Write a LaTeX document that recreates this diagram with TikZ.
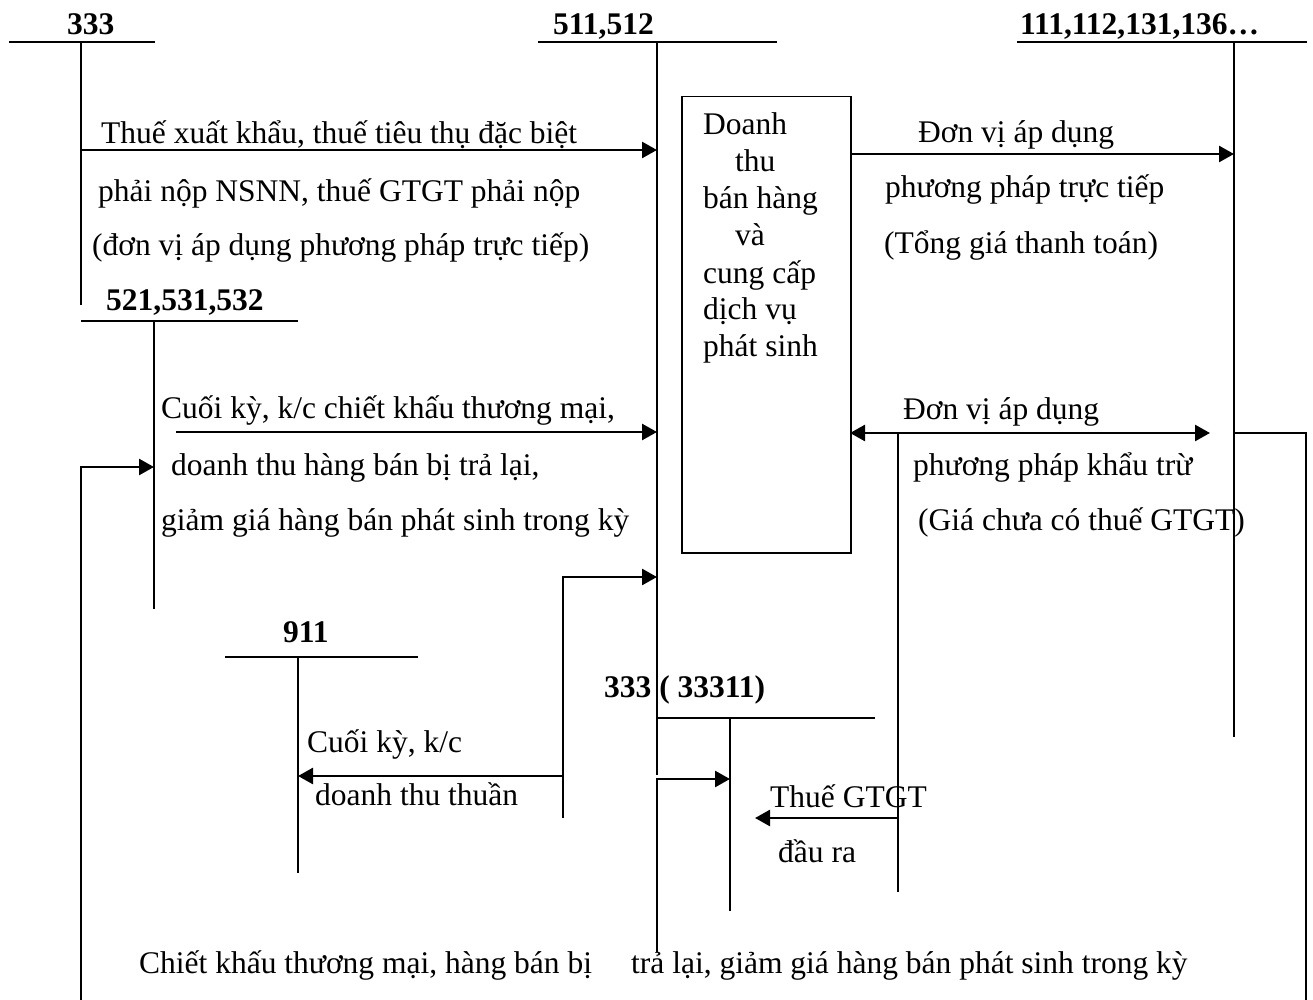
\documentclass[tikz,border=0pt]{standalone}
\usepackage{fontspec}
\setmainfont{Liberation Serif}
\usetikzlibrary{arrows.meta}
\begin{document}
\begin{tikzpicture}[x=1pt,y=-1pt,
  acct/.style={line width=1.8pt},
  flow/.style={line width=2.6pt,-{Triangle[length=15pt,width=16pt]}},
  both/.style={line width=2.6pt,{Triangle[length=15pt,width=16pt]}-{Triangle[length=15pt,width=16pt]}},
  link/.style={line width=1.8pt},
  txt/.style={anchor=base west,inner sep=0pt,font=\fontsize{31.5}{36}\selectfont},
  num/.style={anchor=base west,inner sep=0pt,font=\fontsize{31.5}{36}\selectfont\bfseries}]
\useasboundingbox (0,0) rectangle (1313,1000);

% ---- account headings ----
\node[num] (h333)   at (67,35)   {333};
\node[num] (h511)   at (553,35)  {511,512};
\node[num] (h111)   at (1020,35) {111,112,131,136…};
\node[num] (h521)   at (106,310) {521,531,532};
\node[num] (h911)   at (283,642) {911};
\node[num] (h33311) at (604,697) {333 ( 33311)};

% ---- T-account rules ----
\coordinate (a333t) at (81,42);   \coordinate (a333b) at (81,305);
\coordinate (a511t) at (657,42);  \coordinate (a511b) at (657,775);
\coordinate (a111t) at (1234,42); \coordinate (a111b) at (1234,737);
\coordinate (a521t) at (154,321); \coordinate (a521b) at (154,609);
\coordinate (a911t) at (298,657); \coordinate (a911b) at (298,873);
\coordinate (aVATt) at (730,718); \coordinate (aVATb) at (730,911);

\draw[acct] (9,42) -- (155,42);      \draw[acct] (a333t) -- (a333b);
\draw[acct] (538,42) -- (777,42);    \draw[acct] (a511t) -- (a511b);
\draw[acct] (1017,42) -- (1307,42);  \draw[acct] (a111t) -- (a111b);
\draw[acct] (81,321) -- (298,321);   \draw[acct] (a521t) -- (a521b);
\draw[acct] (225,657) -- (418,657);  \draw[acct] (a911t) -- (a911b);
\draw[acct] (657,718) -- (875,718);  \draw[acct] (aVATt) -- (aVATb);

% ---- revenue box ----
\node[draw,line width=1.5pt,anchor=north west,minimum width=169pt,minimum height=456pt,inner sep=0pt]
  (box) at (681,96) {};
\node[txt] (b1) at (703,135) {Doanh};
\node[txt] (b2) at (735,172) {thu};
\node[txt] (b3) at (703,209) {bán hàng};
\node[txt] (b4) at (735,246) {và};
\node[txt] (b5) at (703,283) {cung cấp};
\node[txt] (b6) at (703,319) {dịch vụ};
\node[txt] (b7) at (703,356) {phát sinh};

% ---- 333 -> 511 ----
\coordinate (f1s) at (81,150); \coordinate (f1e) at (657,150);
\draw[flow] (f1s) -- (f1e);
\node[txt] (l1a) at (101,144) {Thuế xuất khẩu, thuế tiêu thụ đặc biệt};
\node[txt] (l1b) at (98,202)  {phải nộp NSNN, thuế GTGT phải nộp};
\node[txt] (l1c) at (92,255)  {(đơn vị áp dụng phương pháp trực tiếp)};

% ---- 521 -> 511 ----
\coordinate (f2s) at (176,432); \coordinate (f2e) at (657,432);
\draw[flow] (f2s) -- (f2e);
\node[txt] (l2a) at (161,418) {Cuối kỳ, k/c chiết khấu thương mại,};
\node[txt] (l2b) at (171,475) {doanh thu hàng bán bị trả lại,};
\node[txt] (l2c) at (161,530) {giảm giá hàng bán phát sinh trong kỳ};

% ---- 111 -> 521 (round the bottom) ----
\coordinate (f3s) at (81,1000); \coordinate (f3e) at (154,467);
\draw[flow] (f3s) |- (f3e);
\coordinate (f3r) at (1306,1000); \coordinate (f3k) at (1234,433);
\draw[link] (f3k) -| (f3r);
\node[txt] (l3a) at (139,973) {Chiết khấu thương mại, hàng bán bị};
\node[txt] (l3b) at (631,973) {trả lại, giảm giá hàng bán phát sinh trong kỳ};

% ---- 511 -> 911 ----
\coordinate (f4b) at (563,818); \coordinate (f4e) at (657,577);
\draw[flow] (f4b) |- (f4e);
\coordinate (f5s) at (563,776); \coordinate (f5e) at (298,776);
\draw[flow] (f5s) -- (f5e);
\node[txt] (l5a) at (307,752) {Cuối kỳ, k/c};
\node[txt] (l5b) at (315,805) {doanh thu thuần};

% ---- 511 -> 33311 ----
\coordinate (f6s) at (657,952); \coordinate (f6e) at (730,779);
\draw[flow] (f6s) |- (f6e);

% ---- box -> 111 (direct method) ----
\coordinate (f7s) at (850,154);
\draw[flow] (f7s) -- (a111t |- f7s);
\node[txt] (l7a) at (918,143) {Đơn vị áp dụng};
\node[txt] (l7b) at (885,198) {phương pháp trực tiếp};
\node[txt] (l7c) at (884,253) {(Tổng giá thanh toán)};

% ---- box <-> 111 (deduction method) ----
\coordinate (f8s) at (850,433); \coordinate (f8e) at (1210,433);
\draw[both] (f8s) -- (f8e);
\node[txt] (l8a) at (903,419) {Đơn vị áp dụng};
\node[txt] (l8b) at (913,475) {phương pháp khẩu trừ};
\node[txt] (l8c) at (918,530) {(Giá chưa có thuế GTGT)};

% ---- output VAT -> 33311 ----
\coordinate (f9t) at (898,433); \coordinate (f9b) at (898,892);
\draw[link] (f9t) -- (f9b);
\coordinate (f9s) at (898,818); \coordinate (f9e) at (755,818);
\draw[flow] (f9s) -- (f9e);
\node[txt] (l9a) at (770,807) {Thuế GTGT};
\node[txt] (l9b) at (778,862) {đầu ra};
\end{tikzpicture}
\end{document}
